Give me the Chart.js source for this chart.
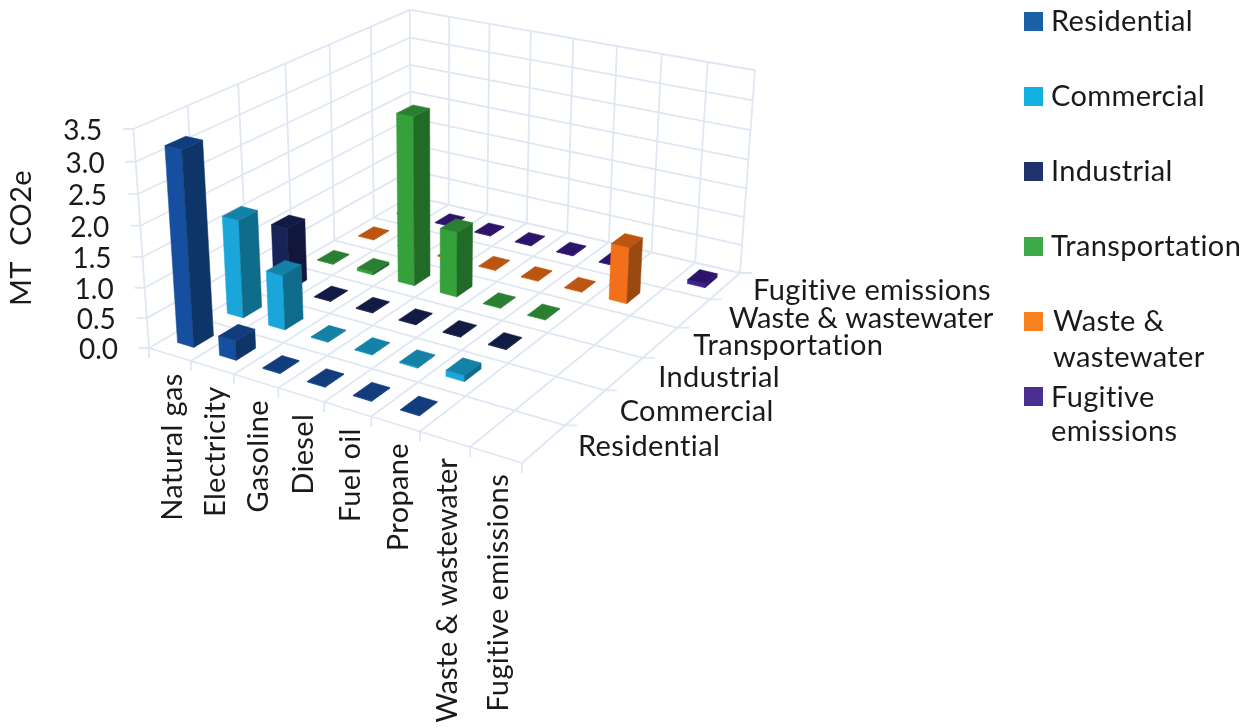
<!DOCTYPE html>
<html>
<head>
<meta charset="utf-8">
<title>Emissions by fuel and sector</title>
<style>
  html, body { margin: 0; padding: 0; background: #fff; }
  canvas { display: block; }
</style>
<script src="https://cdn.jsdelivr.net/npm/chart.js@4"></script>
</head>
<body>
<canvas id="chart" width="1246" height="727"></canvas>
<script>
// Fuel categories along the front edge, sectors along the depth axis.
const fuels = ['Natural gas', 'Electricity', 'Gasoline', 'Diesel', 'Fuel oil', 'Propane', 'Waste & wastewater', 'Fugitive emissions'];
const sectors = ['Residential', 'Commercial', 'Industrial', 'Transportation', 'Waste & wastewater', 'Fugitive emissions'];
const valueTicks = [0, 0.5, 1, 1.5, 2, 2.5, 3, 3.5];

// MT CO2e per fuel, one list per sector. null means no column at all.
const residential    = [3.18, 0.32, 0.01, 0.01, 0.01, 0.01, null, null];
const commercial     = [1.65, 0.92, 0.01, 0.01, 0.02, 0.1,  null, null];
const industrial     = [1.08, 0.01, 0.01, 0.01, 0.01, 0.01, null, null];
const transportation = [0.01, 0.05, 2.9,  1.12, 0.01, 0.01, null, null];
const wasteWater     = [0.01, 0.01, 0.01, 0.01, 0.01, 0.01, 0.97, null];
const fugitive       = [0.01, 0.01, 0.01, 0.01, 0.01, 0.01, null, 0.07];

// Face colours: front, side, top, plus the key swatch.
const residentialColors    = ['#164f9f', '#0e3567', '#113c7d', '#1a5fa8'];
const commercialColors     = ['#1aa6db', '#0f6c8b', '#1382a6', '#10b0e0'];
const industrialColors     = ['#182458', '#10163c', '#121b43', '#20336a'];
const transportationColors = ['#34a13a', '#226a27', '#2a8030', '#3aaa4a'];
const wasteColors          = ['#f3701a', '#9a4a10', '#bc5510', '#f7821f'];
const fugitiveColors       = ['#3c2393', '#2b1469', '#2b1469', '#4a2f90'];

const TEXT = '#1a1a1a';
const GRID = '#dfe7f3';
const TICK_FONT = '28px Lato, sans-serif';
const LABEL_FONT = '29px Lato, sans-serif';
const LABEL_TRACKING = '0.35px';
const COLUMN_SHARE = 0.39; // column footprint as a share of its cell

// Fine placement of the depth labels beside their cells.
const depthLabelDx = [34, 34, 34, 33, 35, 28];
const depthLabelDy = [3, 4, 4, 3, 5, 5];

// Box corners on the page: the floor, then three corners of the top plane.
const floorQuad = [[149, 348], [522, 463], [740, 273], [411, 196]];
const topCorners = [[0, 0, 133, 128], [0, 1, 410, 11], [1, 1, 755, 70]];

function solve(A, b) {
  const n = b.length;
  const M = A.map((r, i) => [...r, b[i]]);
  for (let c = 0; c < n; c++) {
    let p = c;
    for (let r = c + 1; r < n; r++) if (Math.abs(M[r][c]) > Math.abs(M[p][c])) p = r;
    [M[c], M[p]] = [M[p], M[c]];
    for (let r = 0; r < n; r++) {
      if (r === c) continue;
      const f = M[r][c] / M[c][c];
      for (let k = c; k <= n; k++) M[r][k] -= f * M[c][k];
    }
  }
  return M.map((r, i) => r[n] / r[i]);
}

// Projective camera fitted to the corners above: (u, w, h) in 0..1 to page pixels.
const camera = (() => {
  const uv = [[0, 0], [1, 0], [1, 1], [0, 1]];
  const A = [], b = [];
  uv.forEach(([u, w], i) => {
    const [x, y] = floorQuad[i];
    A.push([u, w, 1, 0, 0, 0, -x * u, -x * w]); b.push(x);
    A.push([0, 0, 0, u, w, 1, -y * u, -y * w]); b.push(y);
  });
  const s = solve(A, b);
  const H = [[s[0], s[1], s[2]], [s[3], s[4], s[5]], [s[6], s[7], 1]];
  const N = [[0, 0, 0], [0, 0, 0], [0, 0, 0]], r = [0, 0, 0];
  const add = (row, v) => {
    for (let i = 0; i < 3; i++) {
      r[i] += row[i] * v;
      for (let j = 0; j < 3; j++) N[i][j] += row[i] * row[j];
    }
  };
  topCorners.forEach(([u, w, x, y]) => {
    const h0 = H[0][0] * u + H[0][1] * w + H[0][2];
    const h1 = H[1][0] * u + H[1][1] * w + H[1][2];
    const h2 = H[2][0] * u + H[2][1] * w + H[2][2];
    add([1, 0, -x], x * h2 - h0);
    add([0, 1, -y], y * h2 - h1);
  });
  const c = solve(N, r);
  return (u, w, h) => {
    const d = H[2][0] * u + H[2][1] * w + H[2][2] + c[2] * h;
    return [
      (H[0][0] * u + H[0][1] * w + H[0][2] + c[0] * h) / d,
      (H[1][0] * u + H[1][1] * w + H[1][2] + c[1] * h) / d
    ];
  };
})();

const share = (scale, v) => scale.getDecimalForPixel(scale.getPixelForValue(v));

function polygon(ctx, pts, color) {
  ctx.beginPath();
  pts.forEach((p, i) => (i ? ctx.lineTo(p[0], p[1]) : ctx.moveTo(p[0], p[1])));
  ctx.closePath();
  ctx.fillStyle = color;
  ctx.strokeStyle = color;
  ctx.lineWidth = 0.5;
  ctx.fill();
  ctx.stroke();
}

// Bar controller whose columns are drawn as boxes inside the projected volume.
class Box3DController extends Chart.BarController {
  draw() {
    const chart = this.chart;
    const ctx = chart.ctx;
    const { x, y, z } = chart.scales;
    const ds = this.getDataset();
    const wMid = share(z, this.index);
    const halfU = COLUMN_SHARE / fuels.length / 2;
    const halfW = COLUMN_SHARE / sectors.length / 2;
    ds.data.forEach((v, i) => {
      if (v === null) return;
      const uMid = share(x, i);
      const h = share(y, v);
      const [u0, u1, w0, w1] = [uMid - halfU, uMid + halfU, wMid - halfW, wMid + halfW];
      const [front, side, top] = ds.faceColors;
      polygon(ctx, [camera(u0, w0, 0), camera(u1, w0, 0), camera(u1, w0, h), camera(u0, w0, h)], front);
      polygon(ctx, [camera(u1, w0, 0), camera(u1, w1, 0), camera(u1, w1, h), camera(u1, w0, h)], side);
      polygon(ctx, [camera(u0, w0, h), camera(u1, w0, h), camera(u1, w1, h), camera(u0, w1, h)], top);
    });
  }
}
Box3DController.id = 'box3d';
Box3DController.defaults = Chart.BarController.defaults;
Box3DController.overrides = Chart.BarController.overrides;
Chart.register(Box3DController);

function segment(ctx, a, b) {
  ctx.moveTo(a[0], a[1]);
  ctx.lineTo(b[0], b[1]);
}

// Floor, the two back walls and the tick stubs.
const volumeGrid = {
  id: 'volumeGrid',
  beforeDatasetsDraw(chart) {
    const ctx = chart.ctx;
    const y = chart.scales.y;
    const nU = fuels.length, nW = sectors.length;
    ctx.save();
    ctx.strokeStyle = GRID;
    ctx.lineWidth = 1.8;
    ctx.beginPath();
    for (let i = 0; i <= nU; i++) {
      const u = i / nU;
      const p = camera(u, 0, 0);
      segment(ctx, p, camera(u, 1, 0));
      segment(ctx, p, [p[0], p[1] + 10]);
      segment(ctx, camera(u, 1, 0), camera(u, 1, 1));
    }
    for (let j = 0; j <= nW; j++) {
      const w = j / nW;
      const p = camera(1, w, 0);
      segment(ctx, camera(0, w, 0), p);
      if (j > 0) segment(ctx, p, [p[0] + 12, p[1]]);
      segment(ctx, camera(0, w, 0), camera(0, w, 1));
    }
    valueTicks.forEach((t) => {
      const h = share(y, t);
      const a = camera(0, 0, h), b = camera(0, 1, h), c = camera(1, 1, h);
      segment(ctx, [a[0] - 10, a[1]], a);
      segment(ctx, a, b);
      segment(ctx, b, c);
    });
    ctx.stroke();
    ctx.restore();
  }
};

// The ampersand runs wide in this face, so those names get no extra tracking.
function setTracking(ctx, name) {
  ctx.letterSpacing = name.includes('&') ? '0px' : LABEL_TRACKING;
}

// Axis text and the key on the right.
const volumeLabels = {
  id: 'volumeLabels',
  afterDraw(chart) {
    const ctx = chart.ctx;
    const { x, y, z } = chart.scales;
    ctx.save();
    ctx.font = TICK_FONT;
    ctx.fillStyle = TEXT;
    ctx.textBaseline = 'middle';

    ctx.textAlign = 'right';
    valueTicks.forEach((t) => {
      const p = camera(0, 0, share(y, t));
      ctx.fillText(t.toFixed(1), p[0] - 31, p[1] + 2);
    });

    ctx.font = LABEL_FONT;
    ctx.letterSpacing = LABEL_TRACKING;

    ctx.save();
    ctx.translate(22, 238);
    ctx.rotate(-Math.PI / 2);
    ctx.textAlign = 'center';
    ctx.fillText('MT  CO2e', 0, 0);
    ctx.restore();

    fuels.forEach((name, i) => {
      const p = camera(share(x, i), 0, 0);
      ctx.save();
      setTracking(ctx, name);
      ctx.translate(p[0] + 3, p[1] + 19);
      ctx.rotate(-Math.PI / 2);
      ctx.textAlign = 'right';
      ctx.fillText(name, 0, 0);
      ctx.restore();
    });

    ctx.textAlign = 'left';
    sectors.forEach((name, j) => {
      const p = camera(1, share(z, j), 0);
      setTracking(ctx, name);
      ctx.fillText(name, p[0] + depthLabelDx[j], p[1] + depthLabelDy[j]);
    });
    ctx.letterSpacing = LABEL_TRACKING;

    // Key: one swatch per dataset, long names wrapped onto two lines.
    chart.data.datasets.forEach((ds, k) => {
      const top = 12 + 75 * k;
      ctx.fillStyle = ds.faceColors[3];
      ctx.fillRect(1024, top, 19, 19);
      ctx.fillStyle = TEXT;
      const words = ds.label.split(' ');
      const wrapped = ctx.measureText(ds.label).width > 200;
      if (wrapped) {
        const first = words.slice(0, -1).join(' ');
        const indent = k === 4 ? 1053 : 1051;
        ctx.fillText(first, indent, top + (k === 4 ? 10 : 11));
        ctx.fillText(words[words.length - 1], indent, top + (k === 4 ? 46 : 45));
      } else {
        ctx.fillText(ds.label, 1051, top + 10);
      }
    });
    ctx.restore();
  }
};

const series = [residential, commercial, industrial, transportation, wasteWater, fugitive];
const seriesColors = [residentialColors, commercialColors, industrialColors, transportationColors, wasteColors, fugitiveColors];

new Chart(document.getElementById('chart'), {
  type: 'box3d',
  data: {
    labels: fuels,
    datasets: sectors.map((name, k) => ({
      label: name,
      data: series[k],
      faceColors: seriesColors[k]
    }))
  },
  options: {
    responsive: false,
    animation: false,
    events: [],
    layout: { padding: 0 },
    plugins: { legend: { display: false }, tooltip: { enabled: false } },
    scales: {
      x: { type: 'category', display: false, offset: true },
      y: { type: 'linear', display: false, min: 0, max: 3.5, ticks: { stepSize: 0.5 } },
      z: { type: 'category', axis: 'x', display: false, offset: true, labels: sectors }
    }
  },
  plugins: [volumeGrid, volumeLabels]
});
</script>
</body>
</html>
